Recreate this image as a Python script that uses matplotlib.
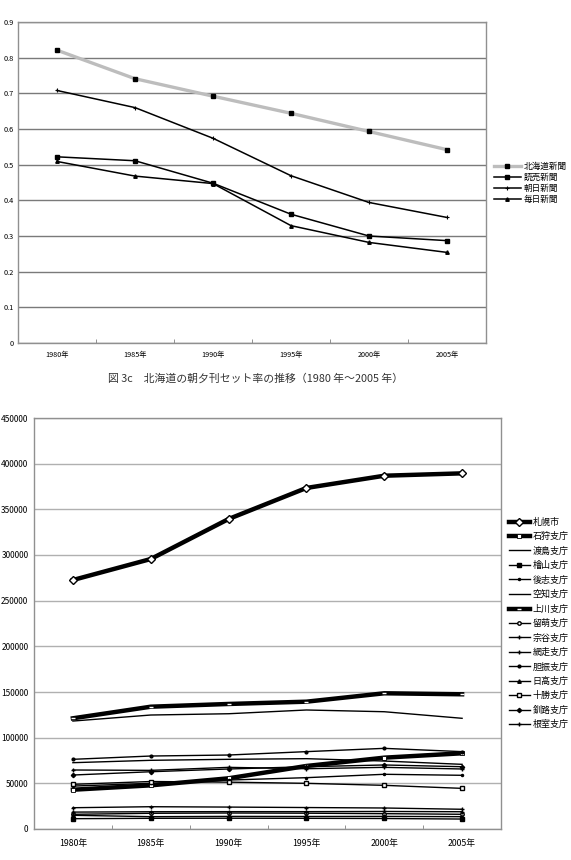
import numpy as np
import matplotlib
matplotlib.use("Agg")
import matplotlib.pyplot as plt

plt.rcParams['font.family'] = ['Noto Sans CJK JP', 'DejaVu Sans']

years = ['1980年', '1985年', '1990年', '1995年', '2000年', '2005年']

# top chart: morning/evening set rate
papers = ['北海道新聞', '読売新聞', '朝日新聞', '毎日新聞']
hokkaido = [0.821, 0.741, 0.692, 0.644, 0.593, 0.542]
yomiuri = [0.522, 0.511, 0.448, 0.361, 0.300, 0.287]
asahi = [0.708, 0.660, 0.574, 0.469, 0.394, 0.352]
mainichi = [0.509, 0.468, 0.447, 0.329, 0.282, 0.254]
top_ticks = [0, 0.1, 0.2, 0.3, 0.4, 0.5, 0.6, 0.7, 0.8, 0.9]
top_ticklabels = ['0', '0.1', '0.2', '0.3', '0.4', '0.5', '0.6', '0.7', '0.8', '0.9']

# bottom chart: by region
regions = ['札幌市', '石狩支庁', '渡島支庁', '檜山支庁', '後志支庁', '空知支庁', '上川支庁',
           '留萌支庁', '宗谷支庁', '網走支庁', '胆振支庁', '日高支庁', '十勝支庁', '釧路支庁', '根室支庁']
sapporo = [272600, 295600, 339400, 373400, 386800, 389400]
ishikari = [43000, 47800, 55500, 69000, 78100, 82900]
oshima = [118200, 124800, 126200, 130300, 128400, 121200]
hiyama = [11300, 11700, 11800, 11700, 11500, 10900]
shiribeshi = [47000, 50000, 53600, 56200, 59900, 58800]
sorachi = [72600, 75200, 76300, 77000, 74400, 70800]
kamikawa = [121200, 133900, 136900, 139400, 148600, 147500]
rumoi = [16100, 17200, 17500, 17300, 16800, 16100]
soya = [18500, 18900, 19000, 19000, 19200, 18900]
abashiri = [64600, 64200, 67500, 66000, 67500, 65700]
iburi = [76300, 79900, 81000, 84700, 88300, 84700]
hidaka = [15000, 13500, 13800, 13700, 13800, 13500]
tokachi = [48900, 52000, 51300, 50000, 47800, 44500]
kushiro = [59100, 62700, 65700, 68200, 70100, 68200]
nemuro = [23300, 24400, 24000, 23500, 23000, 21600]
bottom_ticks = [0, 50000, 100000, 150000, 200000, 250000, 300000, 350000, 400000, 450000]

caption = '図 3c　北海道の朝夕刊セット率の推移（1980 年～2005 年）'

W, H = 571, 860
fig = plt.figure(figsize=(W / 100, H / 100), dpi=100)

def px_box(l, t, r, b):
    return [l / W, 1 - b / H, (r - l) / W, (b - t) / H]

def style_axes(ax, gridcolor, fs_y, fs_x, xpad, ypad):
    x = np.arange(len(years))
    ax.set_xlim(-0.5, len(years) - 0.5)
    ax.set_xticks(x)
    ax.set_xticklabels(years, fontsize=fs_x)
    ax.set_xticks(np.arange(0.5, len(years) - 1, 1.0), minor=True)
    ax.tick_params(axis='x', which='major', length=0, pad=xpad)
    ax.tick_params(axis='x', which='minor', length=3, direction='in', color='#808080')
    ax.tick_params(axis='y', length=0, pad=ypad, labelsize=fs_y)
    ax.yaxis.grid(True, color=gridcolor, linewidth=1.0)
    ax.set_axisbelow(True)
    for s in ax.spines.values():
        s.set_color('#909090')
        s.set_linewidth(1.0)

# ---------------- top chart ----------------
ax1 = fig.add_axes(px_box(18, 22, 486, 343))
x = np.arange(len(years))
ax1.plot(x, hokkaido, color='#bdbdbd', lw=2.4, marker='s', ms=3, mfc='black', mec='black', label=papers[0])
ax1.plot(x, yomiuri, color='black', lw=1.1, marker='s', ms=3, label=papers[1])
ax1.plot(x, asahi, color='black', lw=1.1, marker='+', ms=3, mew=0.8, label=papers[2])
ax1.plot(x, mainichi, color='black', lw=1.1, marker='^', ms=2.5, label=papers[3])
ax1.set_ylim(0, 0.9)
ax1.set_yticks(top_ticks)
ax1.set_yticklabels(top_ticklabels)
style_axes(ax1, '#7a7a7a', 5.3, 5.2, 6, 3)
fig.legend(*ax1.get_legend_handles_labels(), loc='center left',
           bbox_to_anchor=(494 / W, 1 - 183 / H), frameon=False, fontsize=6.2,
           handlelength=3.1, handletextpad=0.3, labelspacing=0.25, borderpad=0, borderaxespad=0)

fig.text(256 / W, 1 - 378 / H, caption, ha='center', va='center', fontsize=7.8, color='#333333')

# ---------------- bottom chart ----------------
ax2 = fig.add_axes(px_box(34, 418, 501, 829))
series = [sapporo, ishikari, oshima, hiyama, shiribeshi, sorachi, kamikawa,
          rumoi, soya, abashiri, iburi, hidaka, tokachi, kushiro, nemuro]
styles = [
    dict(lw=3.2, marker='D', ms=4, mfc='white', mec='black', mew=1.0),
    dict(lw=3.2, marker='s', ms=2.5, mfc='white', mec='black', mew=0.6),
    dict(lw=1.0),
    dict(lw=1.0, marker='s', ms=2.5),
    dict(lw=1.0, marker='.', ms=3),
    dict(lw=1.0),
    dict(lw=3.2, marker='_', ms=2.5, mec='white'),
    dict(lw=1.0, marker='o', ms=2.5, mfc='white', mec='black'),
    dict(lw=1.0, marker='+', ms=3),
    dict(lw=1.0, marker='+', ms=3),
    dict(lw=1.0, marker='o', ms=2),
    dict(lw=1.0, marker='^', ms=2.5),
    dict(lw=1.0, marker='s', ms=3, mfc='white', mec='black'),
    dict(lw=1.0, marker='D', ms=2.2),
    dict(lw=1.0, marker='+', ms=3),
]
for name, vals, st in zip(regions, series, styles):
    ax2.plot(x, vals, color='black', label=name, **st)
ax2.set_ylim(0, 450000)
ax2.set_yticks(bottom_ticks)
ax2.set_yticklabels([str(v) for v in bottom_ticks])
style_axes(ax2, '#b0b0b0', 6, 6.3, 7, 4)
fig.legend(*ax2.get_legend_handles_labels(), loc='center left',
           bbox_to_anchor=(509 / W, 1 - 623.5 / H), frameon=False, fontsize=6.5,
           handlelength=2.3, handletextpad=0.3, labelspacing=0.6, borderpad=0, borderaxespad=0)

fig.savefig('out.png', dpi=100)
